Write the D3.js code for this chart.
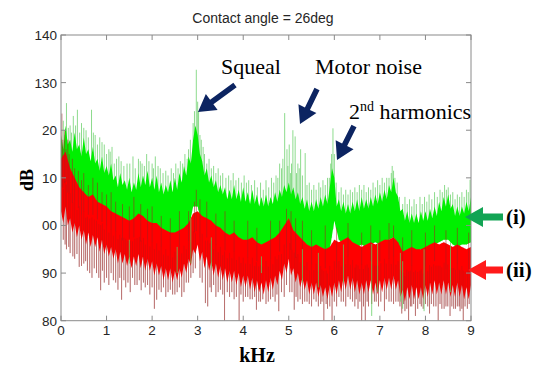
<!DOCTYPE html>
<html>
<head>
<meta charset="utf-8">
<script src="https://cdn.jsdelivr.net/npm/d3@7"></script>
<style>
  body { margin: 0; background: #fff; }
  svg text { font-family: Arial, "Liberation Sans", sans-serif; }
  .serif { font-family: "Liberation Serif", "Times New Roman", serif !important; }
</style>
</head>
<body>
<div id="chart"></div>
<script>
// (i) green spectrum: top edge of the dense band, every 0.05 kHz (0 .. 9)
var greenTopStep = 0.05;
var greenTop = [
  119,116,121,117,118,115.5,119.5,116,117,114.5,118.5,115,116,113.5,116.5,113,114,111.5,114.5,111,
  112.5,110.5,113,109.5,110.5,108,111,108.5,109.5,107.5,110,107,109,107.5,111,108,110.5,108.5,111.5,108,
  110,107.5,110.5,107,109,106.5,108.5,107,109.5,107,110,107.5,111,109,112.5,110.5,114.5,113,118,121,
  119,115,113.5,110.5,112,109,110.5,108,109.5,107,108.5,106.5,108,105.5,107.5,105.5,108.5,105.5,107.5,105,
  108,105,107,104.5,107.5,104.5,106.5,104,106,104,106.5,104,106,104.5,107,105,107.5,106,108.5,107,
  109,106.5,108,105.5,107,104.5,106,103.5,105.5,103,105,103,105.5,103.5,106,104,106.5,104.5,108,112,
  110,104,105.5,103,105,102.5,104.5,102.5,105,103,105.5,103,106,103.5,105.5,103.5,106,104,106.5,104.5,
  107,105,107.5,105.5,108.5,107,110,107,106,103,103.5,101,103,100.5,102.5,100.5,102.5,100.5,103,101,
  103,101,103.5,101.5,104,102,105,103,106,104,106.5,103.5,104.5,102,104,102,104,102.5,105,103,
  106];
// bottom edge of the green band, every 0.1 kHz
var greenBottomStep = 0.1;
var greenBottom = [104,105,103,103.5,102,101.5,101,100,99.5,99,
  98.5,98,97,97.5,96.5,97,96.5,97,97.5,96.5,
  96,96.5,95.5,95,95.5,95,96,97,99,104,
  104,100,98,97.5,96.5,96,95.5,95,95.5,94.5,
  94.5,94,94.5,94,93.5,94,94.5,95,96,97.5,
  98.5,97,96,95,94.5,94,94.5,94,94.5,95,
  101,97,96,96.5,96,95.5,96,95.5,96,96.5,
  96,96.5,97,97.5,96,92.5,94,94.5,94.5,95,
  95,95.5,96,96.5,97,97,96,95.5,96,96,96.5];

// (ii) red spectrum: top edge every 0.1 kHz, bottom edge every 0.05 kHz
var redTopStep = 0.1;
var redTop = [114,115.5,112,110,108,107,106,106.5,105,104.5,
  104,103,102.5,102,101.5,101,101.5,102.5,102,101,
  100.5,100.5,99.5,99,98.5,98.5,99,99.5,100.5,102.5,
  103,102,101.5,101,100,99.5,98.5,98,98.5,97.5,
  97,97,97.5,96.5,96,96.5,97,97.5,98.5,100,
  101.5,99,98,97,96,95.5,96,95.5,95,95.5,
  97,96.5,97,97.5,96.5,96,95.5,96,96.5,96,
  96.5,97,97,97.5,96.5,94.5,95,95.5,95,95,
  95.5,96,96.5,96,96.5,96,95.5,96,95.5,95,95.5];
var redBottomStep = 0.05;
var redBottom = [
  103,100.5,104,100,101.5,98.5,100.5,97.5,100,97,99,96,98.5,95.5,98,95.5,97.5,94.5,97,94,
  96,93.5,95.5,93,95,92,94.5,92,94,91.5,93.5,91,93.5,91.5,94,91,93.5,90.5,93,90.5,
  92.5,89.5,92,89.5,91.5,88.5,91,88.5,91,88,90.5,88.5,91,89,92,90,93,91.5,95,94,
  96,92.5,94.5,91,93.5,90.5,92.5,89.5,92,89,91.5,88.5,91,88,90.5,88,90.5,87.5,90,87,
  89.5,87,89.5,86.5,89,86,88.5,86,88,85.5,88.5,86,89,86.5,89.5,87.5,90.5,88.5,92,90,
  93,89.5,91,88,90,87,89,86.5,88.5,85.5,88,85.5,88,85,87.5,85,87,84.5,87.5,85,
  88,85.5,88.5,86,89,86.5,89.5,86.5,89,86,88.5,85.5,88,85.5,88.5,86,88.5,85.5,88,85.5,
  88.5,86,89,86.5,89,86.5,89.5,86.5,88.5,85,86.5,84,87,84.5,87.5,84.5,87,84.5,87,84.5,
  87.5,85,88,85.5,88.5,85.5,88,85.5,88.5,85.5,88,85,87.5,85,88,85,87.5,84.5,87,84.5,
  87.5];

// single peaks sticking out of the bands: [kHz, dB]
var greenUpPeaks = [[0.05,122],[0.09,119],[0.12,125.7],[0.16,120.5],[0.2,121],[0.23,119.5],[0.27,123],[0.32,121],
  [0.36,124.3],[0.41,119.5],[0.45,121.5],[0.5,120.5],[0.55,120],[0.6,118.5],[0.67,124.3],[0.71,119.5],[0.75,119],
  [0.8,117],[0.85,118.5],[0.9,117.5],[0.95,117],[1.0,115],[1.05,116],[1.08,115.5],[1.12,116.5],[1.17,113],[1.22,114],
  [1.27,114.5],[1.32,113.5],[1.38,112.5],[1.45,113],[1.51,113],[1.58,114.5],[1.63,112],[1.7,114],[1.74,113.5],
  [1.78,113],[1.83,112.5],[1.88,115],[1.93,113.5],[2.0,113],[2.03,112],[2.07,114.5],[2.13,112.5],[2.18,112],
  [2.24,111],[2.3,111.5],[2.35,110.5],[2.42,112],[2.47,111],[2.52,113],[2.57,112],[2.62,113.5],[2.67,113],
  [2.72,115],[2.77,114],[2.8,116],[2.84,118],[2.9,121.5],[2.93,124],[2.97,132.7],[3.0,126],[3.02,124],[3.05,119],
  [3.08,118],[3.12,116.5],[3.15,115],[3.2,113],[3.25,114],[3.3,112],[3.35,112.5],[3.4,111],[3.45,112],[3.5,110.5],
  [3.55,111],[3.62,110],[3.68,110.5],[3.73,109.5],[3.78,111],[3.84,109.5],[3.9,110],[3.96,109],[4.02,110.5],
  [4.07,109],[4.12,109.5],[4.18,108.5],[4.25,109.5],[4.31,108],[4.38,109],[4.44,107.5],[4.5,109.5],[4.56,108],
  [4.62,110],[4.67,109],[4.72,110.5],[4.76,110],[4.8,113],[4.84,112],[4.87,114],[4.91,123.6],[4.96,116],
  [4.98,112.5],[5.01,117],[5.04,111],[5.06,113],[5.09,120],[5.14,118.7],[5.17,111],[5.2,113],[5.23,112],
  [5.26,116],[5.3,110.5],[5.36,115.2],[5.4,108.5],[5.45,109],[5.5,107.5],[5.55,108.5],[5.6,107.5],[5.66,109],
  [5.7,108],[5.75,109.5],[5.8,108.5],[5.85,110],[5.89,110],[5.92,113],[5.94,115],[5.97,120.4],[6.0,115],
  [6.04,109],[6.1,107],[6.15,108],[6.2,106.5],[6.25,107.5],[6.3,106.5],[6.35,107.5],[6.4,107],[6.45,108],
  [6.5,107],[6.55,108.5],[6.6,107.5],[6.65,108.5],[6.7,107],[6.75,108],[6.8,107.5],[6.85,109],[6.9,108],
  [6.95,109.5],[7.0,108.5],[7.05,110],[7.1,109],[7.15,110],[7.2,110],[7.25,111],[7.27,112.5],[7.3,111.5],
  [7.33,110],[7.38,109],[7.43,106],[7.5,104.5],[7.55,106],[7.6,104.5],[7.65,105.5],[7.7,104],[7.75,105.5],
  [7.8,104.5],[7.88,106],[7.93,104.5],[7.98,106],[8.03,105],[8.08,106.5],[8.14,105.5],[8.2,107],[8.26,106],
  [8.32,107.5],[8.37,107],[8.42,108.5],[8.46,107.5],[8.5,108],[8.55,106.5],[8.6,107],[8.65,105.5],[8.7,106.5],
  [8.75,106],[8.8,107],[8.85,106],[8.9,107.5],[8.94,107],[8.98,109.6]];
var greenDownPeaks = [[1.5,92],[2.55,90],[2.85,92],[3.3,91],[4.4,90],[5.3,88],[5.65,87],[6.2,88],[6.82,81],
  [6.95,86],[7.45,84],[7.5,82.5],[7.97,82],[8.55,86]];
var redUpPeaks = [[0.02,123.5],[0.04,118],[0.08,120],[0.11,116],[0.15,118],[0.18,115],[0.25,114],[0.3,112],
  [0.38,111.5],[0.45,109.5],[0.5,111],[0.6,108.5],[0.7,110],[0.8,109],[0.9,107],[1.0,106.5],[1.1,107],[1.2,105],
  [1.35,104.5],[1.5,104],[1.6,106],[1.75,104.5],[1.9,103.5],[2.0,104],[2.2,102],[2.4,101.5],[2.6,103],[2.8,103],
  [2.93,105],[2.97,107.5],[3.05,105.5],[3.2,105],[3.4,102.5],[3.6,103],[3.8,101],[4.1,101],[4.3,99.5],[4.6,101],
  [4.8,101],[4.95,103.5],[5.05,103],[5.15,101.5],[5.3,101],[5.5,99],[5.8,100],[6.05,99.5],[6.3,100.5],[6.6,98.5],
  [6.8,100],[7.0,99],[7.2,100.5],[7.3,100],[7.5,97.5],[7.7,99],[8.0,98.5],[8.2,100],[8.45,99],[8.7,99.5],[8.95,98.5]];
var redDownPeaks = [[0.05,97],[0.09,96],[0.12,95],[0.17,95.5],[0.2,94.2],[0.26,93.5],[0.3,93],[0.35,94],[0.4,91.3],
  [0.45,91.5],[0.5,92],[0.54,92.5],[0.58,90.5],[0.63,90],[0.68,89],[0.73,91],[0.78,90],[0.83,89],[0.87,86.4],
  [0.91,90.5],[0.95,88],[1.0,89],[1.05,87.5],[1.1,90],[1.15,88.5],[1.2,88],[1.25,86.5],[1.29,89],[1.33,84.4],
  [1.38,88.5],[1.42,87],[1.47,88],[1.52,86],[1.57,89],[1.62,87.5],[1.67,87.5],[1.72,88.5],[1.76,86.4],[1.81,88],
  [1.85,87],[1.9,87.5],[1.95,85.5],[2.0,87],[2.05,82.5],[2.1,84.4],[2.15,86.5],[2.2,86],[2.25,87],[2.3,85],
  [2.35,86],[2.4,86.5],[2.45,85.5],[2.5,85.5],[2.55,86],[2.6,87],[2.65,85],[2.7,86],[2.75,88],[2.8,88],[2.85,89],
  [2.9,90],[2.95,91],[3.05,89],[3.1,88],[3.17,83.7],[3.22,83],[3.27,87],[3.3,86],[3.35,87.5],[3.4,85],[3.45,86],
  [3.5,86.5],[3.55,85.5],[3.59,80],[3.65,86],[3.7,85],[3.75,86],[3.8,84.5],[3.85,85],[3.91,80],[3.95,85.5],[4.0,84],
  [4.05,85],[4.1,85],[4.15,84.5],[4.2,84.5],[4.25,85],[4.29,82.3],[4.34,84],[4.38,84],[4.43,84.5],[4.5,83.5],
  [4.55,84],[4.6,84.5],[4.65,85],[4.7,84],[4.74,85.5],[4.78,82],[4.84,86],[4.9,85],[4.95,87.5],[5.02,86],[5.07,86],
  [5.12,82.3],[5.16,85],[5.2,84],[5.25,84.5],[5.3,83.5],[5.35,84],[5.4,84],[5.45,83.5],[5.5,83],[5.55,84.5],
  [5.6,84],[5.65,83],[5.7,83.5],[5.73,84],[5.77,80],[5.82,83.5],[5.85,82.5],[5.9,83],[5.95,80],[6.0,84],[6.05,83],
  [6.1,85],[6.15,84],[6.2,84],[6.25,83],[6.3,85],[6.35,84.5],[6.4,84],[6.45,83],[6.48,84.5],[6.52,82.5],[6.56,84],
  [6.6,80],[6.64,83],[6.68,80],[6.72,84],[6.75,83],[6.82,83.5],[6.88,84],[6.92,84],[6.97,83],[7.02,84],[7.1,82],
  [7.14,84.5],[7.2,84],[7.25,84],[7.3,83.5],[7.35,84],[7.4,84],[7.44,83],[7.48,81.5],[7.52,83.5],[7.55,82],
  [7.59,82.5],[7.63,80],[7.67,83],[7.7,83],[7.74,83.5],[7.78,81],[7.83,82.5],[7.88,83.5],[7.91,83],[7.95,82.5],
  [8.0,83.5],[8.05,83],[8.09,81.5],[8.13,83.5],[8.18,83],[8.23,83],[8.28,80],[8.32,83.5],[8.36,82.5],[8.41,82.5],
  [8.45,83],[8.49,83],[8.54,81],[8.58,83],[8.62,82.5],[8.66,82.5],[8.7,83],[8.74,83],[8.76,82],[8.8,82.5],
  [8.83,80],[8.87,83],[8.92,82.5],[8.96,83.5]];

var xTicks = [0,1,2,3,4,5,6,7,8,9];
var yTicks = [80,90,100,110,120,130,140];
var yTickLabels = ["80","90","00","10","20","130","140"];

var width = 546, height = 369;
var svg = d3.select("#chart").append("svg")
    .attr("width", width)
    .attr("height", height);

var x = d3.scaleLinear().domain([0, 9]).range([61, 471]);
var y = d3.scaleLinear().domain([80, 140]).range([320.7, 35]);

// edge of a band at any frequency (where a peak line starts)
function edgeAt(arr, step, f) {
    var i = Math.min(Math.floor(f / step), arr.length - 2);
    var t = f / step - i;
    return arr[i] * (1 - t) + arr[i + 1] * t;
}

function bandPath(top, topStep, bottom, bottomStep) {
    var upper = top.map(function (v, i) { return [x(i * topStep), y(v)]; });
    var lower = bottom.map(function (v, i) { return [x(i * bottomStep), y(v)]; }).reverse();
    return d3.line()(upper.concat(lower)) + "Z";
}

svg.append("clipPath").attr("id", "plotclip")
  .append("rect").attr("x", 61).attr("y", 35).attr("width", 410).attr("height", 285.7);

var plot = svg.append("g").attr("clip-path", "url(#plotclip)");

function peaks(list, base, color, width, opacity) {
    plot.append("g").selectAll("line")
        .data(list)
        .enter().append("line")
        .attr("x1", function (d) { return x(d[0]); })
        .attr("x2", function (d) { return x(d[0]); })
        .attr("y1", function (d) { return y(base(d[0])); })
        .attr("y2", function (d) { return y(d[1]); })
        .attr("stroke", color)
        .attr("stroke-width", width)
        .attr("stroke-opacity", opacity);
}

function redMid(f) { return (edgeAt(redTop, redTopStep, f) + edgeAt(redBottom, redBottomStep, f)) / 2; }

// green series
peaks(greenUpPeaks, function (f) { return edgeAt(greenBottom, greenBottomStep, f); }, "#5ccc5c", 1, 0.7);
plot.append("path").attr("d", bandPath(greenTop, greenTopStep, greenBottom, greenBottomStep)).attr("fill", "#00f000");

// red series
peaks(redDownPeaks, function (f) { return edgeAt(redTop, redTopStep, f); }, "#94504f", 1, 0.55);
plot.append("path").attr("d", bandPath(redTop, redTopStep, redBottom, redBottomStep)).attr("fill", "#ff0000");
peaks(redDownPeaks, redMid, "#a81818", 0.8, 0.45);
peaks(redUpPeaks, redMid, "#a81c1c", 0.9, 0.6);
peaks(greenDownPeaks, function (f) { return edgeAt(greenBottom, greenBottomStep, f); }, "#5fcf5f", 1, 0.75);

// axes box
var axisColor = "#8a8a8a";
svg.append("rect")
    .attr("x", 61).attr("y", 35).attr("width", 410).attr("height", 285.7)
    .attr("fill", "none").attr("stroke", axisColor).attr("stroke-width", 1);

var ticks = svg.append("g").attr("stroke", axisColor).attr("stroke-width", 1);
xTicks.forEach(function (t) {
    ticks.append("line").attr("x1", x(t)).attr("x2", x(t)).attr("y1", y(80)).attr("y2", y(80) - 5);
    ticks.append("line").attr("x1", x(t)).attr("x2", x(t)).attr("y1", y(140)).attr("y2", y(140) + 5);
});
yTicks.forEach(function (t) {
    ticks.append("line").attr("x1", x(0)).attr("x2", x(0) + 5).attr("y1", y(t)).attr("y2", y(t));
    ticks.append("line").attr("x1", x(9)).attr("x2", x(9) - 5).attr("y1", y(t)).attr("y2", y(t));
});

svg.append("g").selectAll("text")
    .data(xTicks)
    .enter().append("text")
    .attr("x", function (d) { return x(d); })
    .attr("y", 335)
    .attr("text-anchor", "middle")
    .attr("font-size", 13.5)
    .attr("fill", "#262626")
    .text(function (d) { return d; });

svg.append("g").selectAll("text")
    .data(yTicks)
    .enter().append("text")
    .attr("x", 57)
    .attr("y", function (d) { return y(d) + 5; })
    .attr("text-anchor", "end")
    .attr("font-size", 13.5)
    .attr("fill", "#262626")
    .text(function (d, i) { return yTickLabels[i]; });

svg.append("text")
    .attr("x", 263).attr("y", 23)
    .attr("text-anchor", "middle")
    .attr("font-size", 14)
    .attr("fill", "#262626")
    .text("Contact angle = 26deg");

svg.append("text").attr("class", "serif")
    .attr("transform", "translate(33,180) rotate(-90)")
    .attr("text-anchor", "middle")
    .attr("font-size", 18).attr("font-weight", "bold")
    .text("dB");

svg.append("text").attr("class", "serif")
    .attr("x", 257).attr("y", 362)
    .attr("text-anchor", "middle")
    .attr("font-size", 20).attr("font-weight", "bold")
    .text("kHz");

// annotations
function arrow(x1, y1, x2, y2, color, shaft, headLen, headHalf) {
    var dx = x2 - x1, dy = y2 - y1, len = Math.sqrt(dx * dx + dy * dy);
    var ux = dx / len, uy = dy / len, px = -uy, py = ux;
    var bx = x2 - ux * headLen, by = y2 - uy * headLen;
    var pts = [
        [x1 + px * shaft, y1 + py * shaft],
        [bx + px * shaft, by + py * shaft],
        [bx + px * headHalf, by + py * headHalf],
        [x2, y2],
        [bx - px * headHalf, by - py * headHalf],
        [bx - px * shaft, by - py * shaft],
        [x1 - px * shaft, y1 - py * shaft]
    ];
    svg.append("path").attr("d", "M" + pts.join("L") + "Z").attr("fill", color);
}

var navy = "#0c2461";
arrow(235, 85, 198, 112, navy, 2.8, 17, 10);
arrow(317, 89, 300, 124, navy, 2.8, 17, 10);
arrow(354, 126, 337, 160, navy, 2.8, 17, 10);
arrow(503, 217, 465, 217, "#12a454", 3.5, 18, 10);
arrow(503, 270, 468, 270, "#ff1a1a", 3.5, 18, 10);

svg.append("text").attr("class", "serif")
    .attr("x", 221).attr("y", 74).attr("font-size", 22).text("Squeal");
svg.append("text").attr("class", "serif")
    .attr("x", 315).attr("y", 74).attr("font-size", 22).text("Motor noise");
var harm = svg.append("text").attr("class", "serif")
    .attr("x", 349).attr("y", 119).attr("font-size", 22);
harm.append("tspan").text("2");
harm.append("tspan").attr("font-size", 14).attr("dy", -8).text("nd");
harm.append("tspan").attr("dy", 8).text(" harmonics");

svg.append("text").attr("class", "serif")
    .attr("x", 506).attr("y", 224).attr("font-size", 21).attr("font-weight", "bold").text("(i)");
svg.append("text").attr("class", "serif")
    .attr("x", 506).attr("y", 277).attr("font-size", 21).attr("font-weight", "bold").text("(ii)");
</script>
</body>
</html>
